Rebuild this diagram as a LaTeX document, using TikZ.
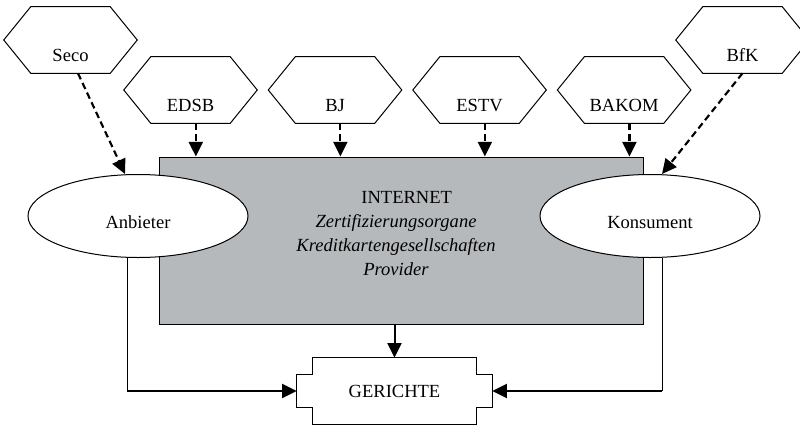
\documentclass[tikz,border=0pt]{standalone}
\usepackage{fontspec}
\setmainfont{Liberation Serif}
\usetikzlibrary{positioning}
\usetikzlibrary{arrows.meta}
\usetikzlibrary{shapes.geometric}
\definecolor{netgray}{RGB}{182,185,188}

\begin{document}
\begin{tikzpicture}[
            x = 0.75pt, y = -0.75pt, % pixel grid, y runs downwards
            node distance = 8.25pt, % gap between the hexagons
            font = \fontsize{13.9}{18}\selectfont
            ]

        \tikzstyle{hexbox}=[
            minimum width = 99.75pt,
            minimum height = 49.5pt,
            inner sep = 0pt,
            text height = 31.5pt,
            text depth = 0pt,
            append after command = {\pgfextra{
              \draw[line width=0.75pt] (\tikzlastnode.west)
                -- ([xshift=20.25pt]\tikzlastnode.north west)
                -- ([xshift=-20.25pt]\tikzlastnode.north east)
                -- (\tikzlastnode.east)
                -- ([xshift=-20.25pt]\tikzlastnode.south east)
                -- ([xshift=20.25pt]\tikzlastnode.south west) -- cycle;}}
        ]
        \tikzstyle{gerbox}=[
            minimum width = 146.25pt,
            minimum height = 49.5pt,
            inner sep = 0pt,
            append after command = {\pgfextra{
              \draw[line width=0.75pt] ([xshift=12pt]\tikzlastnode.north west)
                -- ([xshift=-12pt]\tikzlastnode.north east)
                -- ([xshift=-12pt,yshift=-12.75pt]\tikzlastnode.north east)
                -- ([yshift=-12.75pt]\tikzlastnode.north east)
                -- ([yshift=12.75pt]\tikzlastnode.south east)
                -- ([xshift=-12pt,yshift=12.75pt]\tikzlastnode.south east)
                -- ([xshift=-12pt]\tikzlastnode.south east)
                -- ([xshift=12pt]\tikzlastnode.south west)
                -- ([xshift=12pt,yshift=12.75pt]\tikzlastnode.south west)
                -- ([yshift=12.75pt]\tikzlastnode.south west)
                -- ([yshift=-12.75pt]\tikzlastnode.north west)
                -- ([xshift=12pt,yshift=-12.75pt]\tikzlastnode.north west) -- cycle;}}
        ]
        \tikzstyle{netbox}=[draw, fill=netgray, line width=0.75pt,
            minimum width=363pt, minimum height=125.25pt]
        \tikzstyle{party}=[ellipse, draw, fill=white, line width=0.75pt,
            minimum width=165pt, minimum height=62.25pt, inner sep=0pt,
            text height=18.5pt, text depth=0pt]
        \tikzstyle{dasharrow}=[-{Triangle[length=11pt,width=10.5pt]},
            line width=1.6pt, dash pattern=on 5pt off 3pt]
        \tikzstyle{feed}=[-{Triangle[length=11pt,width=10.5pt]}, line width=1.5pt]
        \tikzstyle{lead}=[line width=0.75pt]

        \useasboundingbox (0,0) rectangle (800,426);

	% authorities
        \node[hexbox] (Seco) at (70.5,40) {Seco};
        \node[hexbox] (EDSB) at (190.5,90) {EDSB};
        \node[hexbox] (BJ) [right=of EDSB] {BJ};
        \node[hexbox] (ESTV) [right=of BJ] {ESTV};
        \node[hexbox] (BAKOM) [right=of ESTV] {BAKOM};
        \node[hexbox] (BfK) at (742.5,40) {BfK};

	% market
        \node[netbox] (NET) at (401,240.5) {};
        \node[align=center] (NETtxt) at (396,234) {\hspace*{16pt}INTERNET\\
            \textit{Zertifizierungsorgane}\\
            \textit{Kreditkartengesellschaften}\\
            \textit{Provider}};

        \node[party] (ANB) at (138,216) {Anbieter};
        \node[party] (KON) at (650,216) {Konsument};

	% courts
        \node[gerbox] (GER) at (394.5,391) {GERICHTE};

        % supervision
        \draw[dasharrow] ([xshift=5.6pt]Seco.south) -- ([xshift=-9.75pt]ANB.north);
        \foreach \h in {EDSB,BJ,ESTV,BAKOM}
          \draw[dasharrow] ([xshift=4pt]\h.south) -- ([xshift=4pt]\h.south |- NET.north);
        \draw[dasharrow] (BfK.south) -- ([xshift=9pt]KON.north);

        % disputes
        \draw[feed] (GER.north |- NET.south) -- (GER.north);

        \coordinate (ANBc) at ([xshift=-8.25pt]ANB.south |- GER.west);
        \draw[lead] ([xshift=-8.25pt]ANB.south) -- (ANBc);
        \draw[feed] (ANBc) -- (GER.west);

        \coordinate (KONc) at ([xshift=9pt]KON.south |- GER.east);
        \draw[lead] ([xshift=9pt]KON.south) -- (KONc);
        \draw[feed] (KONc) -- (GER.east);

\end{tikzpicture}
\end{document}
